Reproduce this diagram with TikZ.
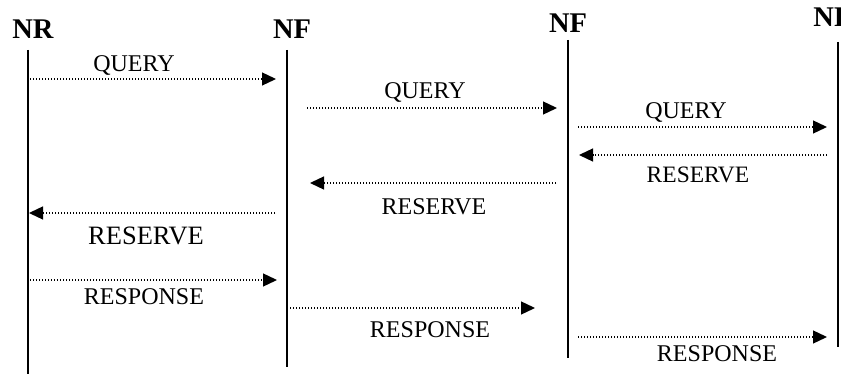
\documentclass[tikz,border=0pt]{standalone}
\usepackage{fontspec}
\setmainfont{Liberation Serif}
\usetikzlibrary{arrows.meta}
\begin{document}
\begin{tikzpicture}[x=1pt,y=-1pt,
  life/.style={line width=1.7pt},
  msg/.style={line width=1.3pt, dash pattern=on 1.3pt off 1.7pt, -{Triangle[length=14pt,width=13pt]}},
  head/.style={font=\fontsize{28.5}{30}\selectfont\bfseries, inner sep=0pt, anchor=base},
  lbl/.style={font=\fontsize{24}{26}\selectfont, inner sep=0pt, anchor=base}]
\useasboundingbox (0,0) rectangle (841,374);
\clip (0,0) rectangle (841,374);
\fill[white] (0,0) rectangle (841,374);
% headers
\node[head] (hNR)  at (33,39)  {NR};
\node[head] (hNF1) at (292,39) {NF};
\node[head] (hNF2) at (568,33) {NF};
\node[head] (hNR2) at (834,27) {NR};
% lifelines
\coordinate (a1) at (28,50);  \coordinate (a2) at (28,374);
\coordinate (b1) at (287,50); \coordinate (b2) at (287,367);
\coordinate (c1) at (568,40); \coordinate (c2) at (568,358);
\coordinate (d1) at (838,42); \coordinate (d2) at (838,347);
\draw[life] (a1) -- (a2);
\draw[life] (b1) -- (b2);
\draw[life] (c1) -- (c2);
\draw[life] (d1) -- (d2);
% message end points
\coordinate (m1s) at (30,79);   \coordinate (m1e) at (276,79);
\coordinate (m2s) at (307,108); \coordinate (m2e) at (557,108);
\coordinate (m3s) at (578,127); \coordinate (m3e) at (827,127);
\coordinate (m4s) at (827,155); \coordinate (m4e) at (579,155);
\coordinate (m5s) at (556,183); \coordinate (m5e) at (310,183);
\coordinate (m6s) at (275,213); \coordinate (m6e) at (29,213);
\coordinate (m7s) at (30,280);  \coordinate (m7e) at (277,280);
\coordinate (m8s) at (290,308); \coordinate (m8e) at (535,308);
\coordinate (m9s) at (578,337); \coordinate (m9e) at (827,337);
\draw[msg] (m1s) -- (m1e);
\draw[msg] (m2s) -- (m2e);
\draw[msg] (m3s) -- (m3e);
\draw[msg] (m4s) -- (m4e);
\draw[msg] (m5s) -- (m5e);
\draw[msg] (m6s) -- (m6e);
\draw[msg] (m7s) -- (m7e);
\draw[msg] (m8s) -- (m8e);
\draw[msg] (m9s) -- (m9e);
% labels
\node[lbl] (q1) at (134,72)  {QUERY};
\node[lbl] (q2) at (425,99)  {QUERY};
\node[lbl] (q3) at (686,119) {QUERY};
\node[lbl, font=\fontsize{23.5}{25}\selectfont] (r4) at (698,183) {RESERVE};
\node[lbl] (r5) at (434,215) {RESERVE};
\node[lbl, font=\fontsize{26.5}{28}\selectfont] (r6) at (146,245) {RESERVE};
\node[lbl] (p7) at (144,305) {RESPONSE};
\node[lbl] (p8) at (430,337) {RESPONSE};
\node[lbl] (p9) at (717,361) {RESPONSE};
\end{tikzpicture}
\end{document}
